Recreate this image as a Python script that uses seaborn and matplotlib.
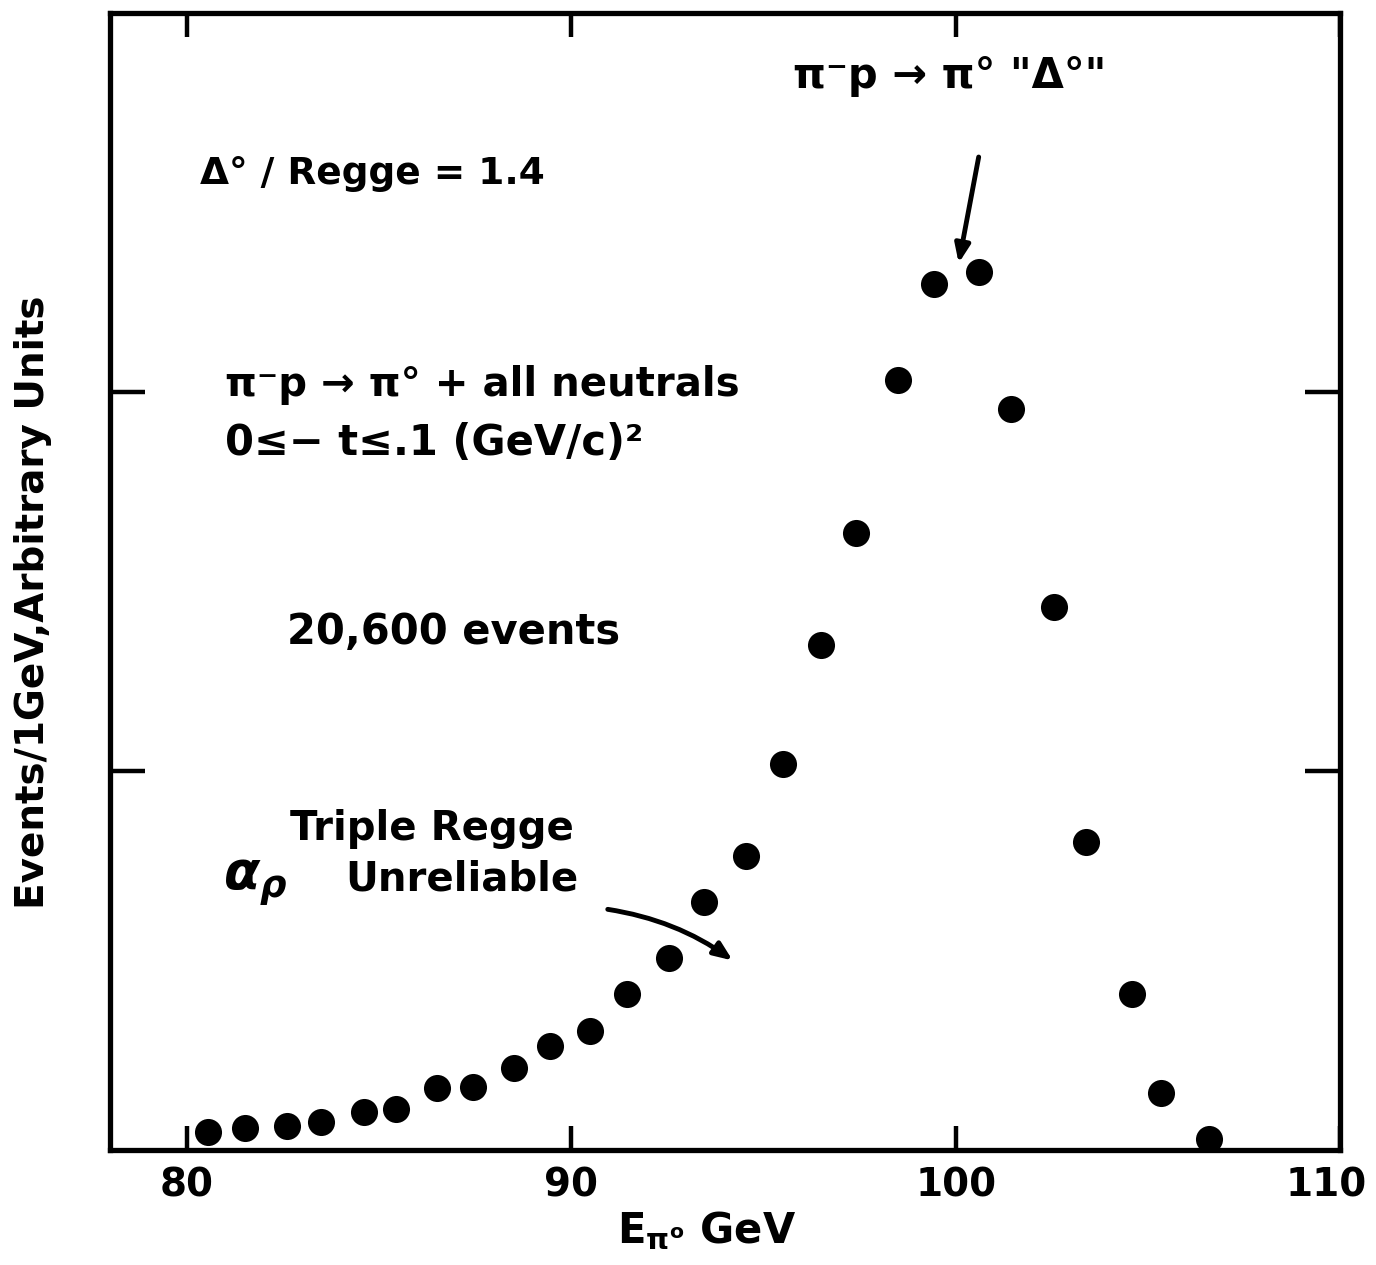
import matplotlib
matplotlib.use("Agg")
import matplotlib.pyplot as plt
import matplotlib.transforms as mtransforms
import seaborn as sns
import pandas as pd

# pi0 energy bins (GeV) and event counts per 1 GeV, arbitrary units
energy = [80.55, 81.5, 82.6, 83.5, 84.6, 85.45, 86.5, 87.45, 88.5, 89.45,
          90.5, 91.45, 92.55, 93.45, 94.55, 95.5, 96.5, 97.4, 98.5, 99.45,
          100.6, 101.45, 102.55, 103.4, 104.6, 105.35, 106.6]
events = [0.048, 0.058, 0.064, 0.074, 0.100, 0.108, 0.164, 0.166, 0.216, 0.274,
          0.314, 0.412, 0.507, 0.654, 0.776, 1.018, 1.332, 1.628, 2.032, 2.285,
          2.317, 1.955, 1.433, 0.813, 0.412, 0.150, 0.029]

x_ticks = [80, 90, 100, 110]
x_tick_labels = ["80", "90", "100", "110"]
y_ticks = [1, 2]

df = pd.DataFrame({"energy": energy, "events": events})

sns.set_style("ticks")
plt.rcParams["font.family"] = ["DejaVu Sans"]
plt.rcParams["mathtext.fontset"] = "dejavusans"
plt.rcParams["font.weight"] = "bold"

fig = plt.figure(figsize=(13.76, 12.65), dpi=100)
ax = fig.add_axes([110 / 1376, 1 - 1150 / 1265, 1230 / 1376, 1137 / 1265])

sns.scatterplot(data=df, x="energy", y="events", ax=ax, s=380,
                color="black", edgecolor="black", linewidth=0, legend=False)

ax.set_xlim(78, 110)
ax.set_ylim(0, 3.0)
ax.set_xticks(x_ticks)
ax.set_xticklabels(x_tick_labels)
ax.set_yticks(y_ticks)
ax.set_yticklabels([])

for s in ax.spines.values():
    s.set_linewidth(3.8)
    s.set_color("black")

ax.tick_params(axis="x", direction="in", length=17, width=3.2, top=True,
               bottom=True, labelsize=28, pad=12, colors="black")
ax.tick_params(axis="y", direction="in", length=25, width=3.2, left=True,
               right=True, colors="black")

# keep the last tick label inside the figure edge
last = ax.get_xticklabels()[-1]
last.set_transform(last.get_transform() +
                   mtransforms.ScaledTranslation(-14 / 100, 0, fig.dpi_scale_trans))

ax.set_xlabel(r"E$_{\mathbf{\pi}^{\mathbf{o}}}$ GeV", fontsize=30,
              fontweight="bold", color="black")
ax.set_ylabel("Events/1GeV,Arbitrary Units", fontsize=28,
              fontweight="bold", color="black")
ax.xaxis.set_label_coords(0.485, -0.053)
ax.yaxis.set_label_coords(-0.047, 0.482)

txt = dict(transform=ax.transAxes, fontsize=30, fontweight="bold",
           color="black", va="center", ha="left")
ax.text(0.073, 0.858, "Δ° / Regge = 1.4", **dict(txt, fontsize=27))
ax.text(0.555, 0.945, "π⁻p → π° \"Δ°\"", **txt)
ax.text(0.0935, 0.673, "π⁻p → π° + all neutrals", **dict(txt, fontsize=29))
ax.text(0.0935, 0.622, "0≤− t≤.1 (GeV/c)²", **txt)
ax.text(0.144, 0.456, "20,600 events", **txt)
ax.text(0.146, 0.282, "Triple Regge", **dict(txt, fontsize=29))
ax.text(0.092, 0.235, r"$\alpha_{\rho}$", transform=ax.transAxes, fontsize=38,
        color="black", va="center", ha="left")
ax.text(0.191, 0.238, "Unreliable", **dict(txt, fontsize=29))

arrow = dict(arrowstyle="-|>,head_length=1.1,head_width=0.45", lw=3.5,
             color="black", shrinkA=0, shrinkB=0)
ax.annotate("", xy=(100.08, 2.34), xytext=(100.6, 2.62), arrowprops=arrow)
ax.annotate("", xy=(94.2, 0.50), xytext=(90.95, 0.635),
            arrowprops=dict(arrow, connectionstyle="arc3,rad=-0.12"))

fig.savefig("out.png", dpi=100, facecolor="white")
